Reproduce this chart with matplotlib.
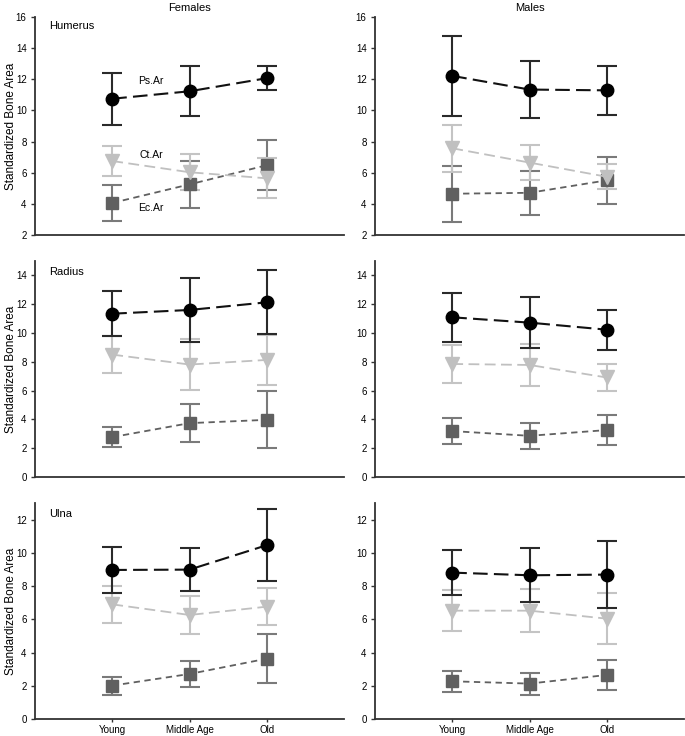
import matplotlib.pyplot as plt
import numpy as np

plt.rcParams["font.family"] = ["Liberation Sans", "DejaVu Sans"]

groups = ["Young", "Middle Age", "Old"]
sexes = ["Females", "Males"]
bones = ["Humerus", "Radius", "Ulna"]

# mean and error half-width, [bone][sex] -> values for Young, Middle Age, Old
ps_mean = [[[10.75, 11.23, 12.07], [12.22, 11.34, 11.29]],
           [[11.34, 11.60, 12.13], [11.09, 10.72, 10.23]],
           [[8.97, 8.99, 10.46], [8.81, 8.65, 8.69]]]
ps_err = [[[1.66, 1.60, 0.79], [2.57, 1.85, 1.56]],
          [[1.56, 2.20, 2.23], [1.72, 1.75, 1.38]],
          [[1.40, 1.29, 2.15], [1.37, 1.62, 2.03]]]

ct_mean = [[[6.75, 6.03, 5.64], [7.57, 6.65, 5.74]],
           [[8.50, 7.81, 8.13], [7.85, 7.78, 6.91]],
           [[6.90, 6.26, 6.76], [6.52, 6.52, 6.04]]]
ct_err = [[[0.96, 1.16, 1.29], [1.50, 1.13, 0.80]],
          [[1.27, 1.75, 1.74], [1.34, 1.45, 0.97]],
          [[1.13, 1.13, 1.10], [1.25, 1.30, 1.52]]]

ec_mean = [[[4.06, 5.25, 6.48], [4.65, 4.71, 5.51]],
           [[2.77, 3.74, 3.97], [3.19, 2.86, 3.26]],
           [[2.01, 2.71, 3.63], [2.27, 2.13, 2.65]]]
ec_err = [[[1.18, 1.50, 1.60], [1.80, 1.40, 1.50]],
          [[0.72, 1.32, 1.99], [0.93, 0.92, 1.02]],
          [[0.54, 0.81, 1.49], [0.63, 0.66, 0.88]]]

ylims = [(2, 16), (0, 15), (0, 13)]
yticks = [np.arange(2, 17, 2), np.arange(0, 15, 2), np.arange(0, 13, 2)]

W, H = 685, 736
fig = plt.figure(figsize=(W / 100, H / 100), dpi=100)

# axes boxes in pixels: (left, right) and (top, bottom)
col_px = [(35, 344), (375, 684)]
row_px = [(17, 235), (261, 477), (503, 719)]

x = np.arange(1, 4)

for r in range(3):
    for c in range(2):
        l, rt = col_px[c]
        t, b = row_px[r]
        ax = fig.add_axes([l / W, 1 - b / H, (rt - l) / W, (b - t) / H])

        # Ec.Ar
        ax.errorbar(x, ec_mean[r][c], yerr=ec_err[r][c], fmt='none',
                    ecolor='#7a7a7a', elinewidth=1.5, capsize=7, capthick=1.5, zorder=2)
        ax.plot(x, ec_mean[r][c], color='#606060', ls=(0, (3.5, 2.5)), lw=1.3,
                marker='s', ms=8.5, mfc='#606060', mec='#606060', zorder=3)
        # Ct.Ar
        ax.errorbar(x, ct_mean[r][c], yerr=ct_err[r][c], fmt='none',
                    ecolor='#c4c4c4', elinewidth=1.5, capsize=7, capthick=1.5, zorder=2)
        ax.plot(x, ct_mean[r][c], color='#c0c0c0', ls=(0, (6, 3)), lw=1.3,
                marker='v', ms=9.5, mfc='#c0c0c0', mec='#c0c0c0', zorder=3)
        # Ps.Ar
        ax.errorbar(x, ps_mean[r][c], yerr=ps_err[r][c], fmt='none',
                    ecolor='#2a2a2a', elinewidth=1.5, capsize=7, capthick=1.5, zorder=4)
        ax.plot(x, ps_mean[r][c], color='#111111', ls=(0, (7, 3)), lw=1.5,
                marker='o', ms=9, mfc='black', mec='black', zorder=5)

        ax.set_xlim(0, 4)
        ax.set_ylim(*ylims[r])
        ax.set_yticks(yticks[r])
        ax.set_xticks(x)
        for s in ['top', 'right']:
            ax.spines[s].set_visible(False)
        for s in ['left', 'bottom']:
            ax.spines[s].set_color('#333333')
            ax.spines[s].set_linewidth(1.3)
        ax.tick_params(axis='y', labelsize=7, length=3, width=1, color='#333333', pad=3)
        if r == 2:
            ax.set_xticklabels(groups)
            ax.tick_params(axis='x', labelsize=7, length=2.5, width=1, color='#333333', pad=1.5)
        else:
            ax.tick_params(axis='x', bottom=False, labelbottom=False)

        if c == 0:
            ax.set_ylabel("Standardized Bone Area", fontsize=8.5)
            ax.yaxis.set_label_coords(-0.058, 0.5)
            ax.text(0.045, 0.98 if r == 0 else 0.97, bones[r], transform=ax.transAxes,
                    fontsize=8, va='top', ha='left')
        if r == 0:
            ax.set_title(sexes[c], fontsize=8, pad=4)

        if r == 0 and c == 0:
            ax.text(1.5, 11.9, "Ps.Ar", fontsize=7.5, ha='center', va='center')
            ax.text(1.5, 7.15, "Ct.Ar", fontsize=7.5, ha='center', va='center')
            ax.text(1.5, 3.75, "Ec.Ar", fontsize=7.5, ha='center', va='center')

fig.savefig("out.png", dpi=100)
